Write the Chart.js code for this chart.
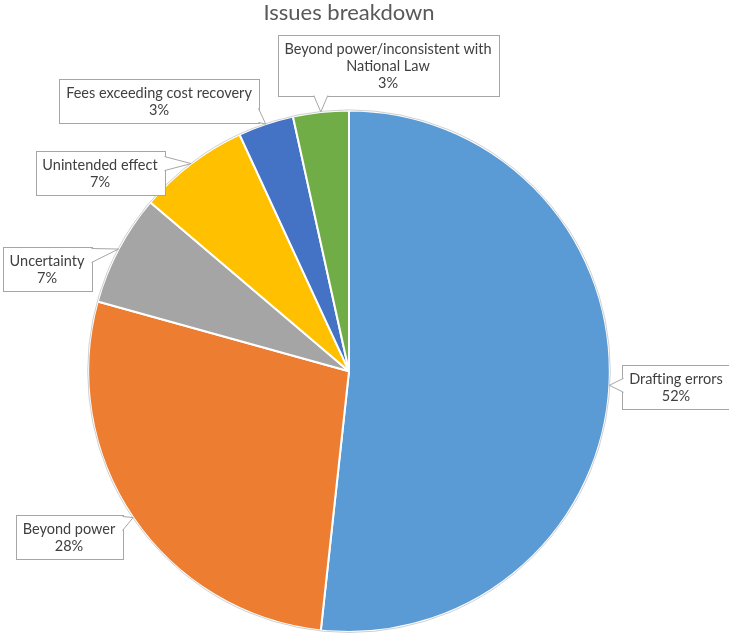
<!DOCTYPE html>
<html>
<head>
<meta charset="utf-8">
<script src="https://cdn.jsdelivr.net/npm/chart.js@4.4.0/dist/chart.umd.min.js"></script>
<style>
  html, body { margin: 0; padding: 0; background: #fff; }
  #wrap { width: 729px; height: 634px; }
</style>
</head>
<body>
<div id="wrap"><canvas id="issuesPie"></canvas></div>
<script>
// issue counts (29 issues in total)
var categories = ["Drafting errors", "Beyond power", "Uncertainty", "Unintended effect", "Fees exceeding cost recovery", "Beyond power/inconsistent with National Law"];
var issueCounts = [15, 8, 2, 2, 1, 1];
var sliceColors = ["#5B9BD5", "#ED7D31", "#A5A5A5", "#FFC000", "#4472C4", "#70AD47"];

// where each callout box sits, relative to the pie centre
var calloutOffsets = [[327, 16], [-280, 166], [-302, -102], [-249, -198], [-190, -270], [39, -306]];

let total = issueCounts.reduce(function (a, b) { return a + b; }, 0);

function wrapText(ctx, text, maxWidth) {
    var words = text.split(' ');
    var lines = [];
    var line = words[0];
    for (var i = 1; i < words.length; i++) {
        var test = line + ' ' + words[i];
        if (ctx.measureText(test).width > maxWidth) {
            lines.push(line);
            line = words[i];
        } else {
            line = test;
        }
    }
    lines.push(line);
    return lines;
}

let calloutPlugin = {
    id: 'callouts',
    afterDatasetsDraw: function (chart) {
        var ctx = chart.ctx;
        var arcs = chart.getDatasetMeta(0).data;
        var lineH = 17;
        ctx.save();
        // thin outline round the pie
        var a0 = arcs[0];
        ctx.beginPath();
        ctx.arc(a0.x, a0.y, a0.outerRadius + 0.5, 0, Math.PI * 2);
        ctx.strokeStyle = '#d0d0d0';
        ctx.lineWidth = 1;
        ctx.stroke();

        ctx.font = '14.5px Lato';
        for (var i = 0; i < arcs.length; i++) {
            var arc = arcs[i];
            var mid = (arc.startAngle + arc.endAngle) / 2;
            var tipX = arc.x + Math.cos(mid) * arc.outerRadius;
            var tipY = arc.y + Math.sin(mid) * arc.outerRadius;

            var lines = wrapText(ctx, categories[i], 230);
            lines.push(Math.round(issueCounts[i] / total * 100) + '%');
            var w = 0;
            lines.forEach(function (l) { w = Math.max(w, ctx.measureText(l).width); });
            w = Math.round(w + 14);
            var h = lines.length * lineH + 10;
            var cx = arc.x + calloutOffsets[i][0];
            var cy = arc.y + calloutOffsets[i][1];
            var left = Math.round(cx - w / 2) + 0.5;
            var top = Math.round(cy - h / 2) + 0.5;
            var right = left + w, bottom = top + h;

            // box
            ctx.fillStyle = '#ffffff';
            ctx.strokeStyle = '#a6a6a6';
            ctx.lineWidth = 1;
            ctx.fillRect(left, top, w, h);
            ctx.strokeRect(left, top, w, h);

            // wedge pointer from the nearest side to the slice
            var px = Math.min(Math.max(tipX, left), right);
            var py = Math.min(Math.max(tipY, top), bottom);
            var b1, b2, inset;
            if (px === left || px === right) {
                var yy = Math.min(Math.max(py, top + 8), bottom - 8);
                inset = px === left ? 1 : -1;
                b1 = [px + inset, yy - 7];
                b2 = [px + inset, yy + 7];
            } else {
                var xx = Math.min(Math.max(px, left + 8), right - 8);
                inset = py === top ? 1 : -1;
                b1 = [xx - 7, py + inset];
                b2 = [xx + 7, py + inset];
            }
            ctx.beginPath();
            ctx.moveTo(b1[0], b1[1]);
            ctx.lineTo(tipX, tipY);
            ctx.lineTo(b2[0], b2[1]);
            ctx.closePath();
            ctx.fill();
            ctx.beginPath();
            ctx.moveTo(b1[0], b1[1]);
            ctx.lineTo(tipX, tipY);
            ctx.lineTo(b2[0], b2[1]);
            ctx.stroke();

            // text
            ctx.fillStyle = '#404040';
            ctx.textAlign = 'center';
            ctx.textBaseline = 'middle';
            for (var j = 0; j < lines.length; j++) {
                ctx.fillText(lines[j], cx, top + 5 + lineH * j + lineH / 2);
            }
        }
        ctx.restore();
    }
};

let issuesPie = new Chart(document.getElementById('issuesPie').getContext('2d'), {
    type: 'pie',
    data: {
        labels: categories,
        datasets: [{
            data: issueCounts,
            backgroundColor: sliceColors,
            borderColor: '#ffffff',
            borderWidth: 2,
            hoverOffset: 0
        }]
    },
    options: {
        responsive: true,
        maintainAspectRatio: false,
        animation: false,
        layout: { padding: { left: 87, right: 118, top: 0, bottom: 1 } },
        plugins: {
            legend: { display: false },
            tooltip: { enabled: false },
            title: {
                display: true,
                text: 'Issues breakdown',
                color: '#595959',
                font: { family: 'Lato', size: 22, weight: 'normal' },
                padding: { top: 0, bottom: 83 }
            }
        }
    },
    plugins: [calloutPlugin]
});
</script>
</body>
</html>
